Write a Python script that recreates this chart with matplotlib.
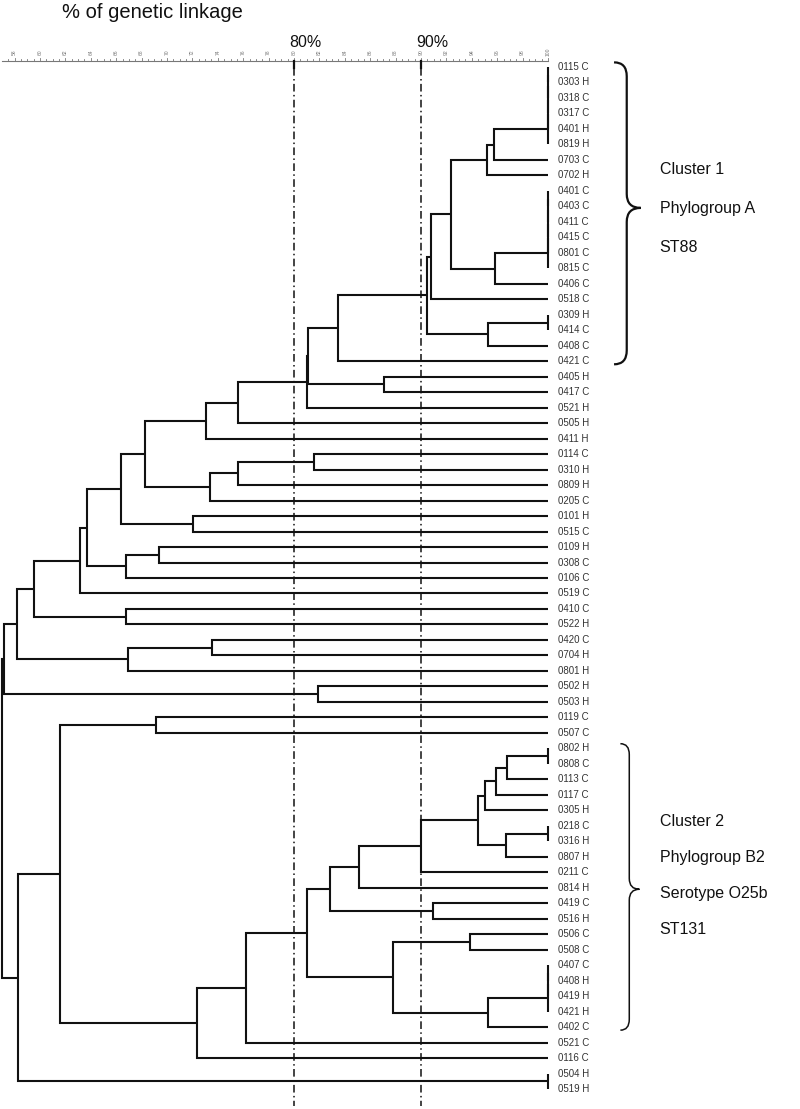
import matplotlib
matplotlib.use('Agg')
import matplotlib.pyplot as plt
from matplotlib.path import Path
from matplotlib.patches import PathPatch

plt.rcParams['font.family'] = ['Liberation Sans', 'DejaVu Sans']

# isolates, top to bottom
leaf_labels = [
    '0115 C', '0303 H', '0318 C', '0317 C', '0401 H', '0819 H', '0703 C', '0702 H',
    '0401 C', '0403 C', '0411 C', '0415 C', '0801 C', '0815 C', '0406 C', '0518 C',
    '0309 H', '0414 C', '0408 C', '0421 C', '0405 H', '0417 C', '0521 H', '0505 H',
    '0411 H', '0114 C', '0310 H', '0809 H', '0205 C', '0101 H', '0515 C', '0109 H',
    '0308 C', '0106 C', '0519 C', '0410 C', '0522 H', '0420 C', '0704 H', '0801 H',
    '0502 H', '0503 H', '0119 C', '0507 C', '0802 H', '0808 C', '0113 C', '0117 C',
    '0305 H', '0218 C', '0316 H', '0807 H', '0211 C', '0814 H', '0419 C', '0516 H',
    '0506 C', '0508 C', '0407 C', '0408 H', '0419 H', '0421 H', '0402 C', '0521 C',
    '0116 C', '0504 H', '0519 H',
]

# merges: (node, left, right, % similarity); ints are leaves, strings are nodes
merges = [
    ('a1', 0, 1, 100), ('a2', 'a1', 2, 100), ('a3', 'a2', 3, 100),
    ('a4', 'a3', 4, 100), ('a5', 'a4', 5, 100),
    ('b', 'a5', 6, 95.75),
    ('c', 'b', 7, 95.17),
    ('d1', 8, 9, 100), ('d2', 'd1', 10, 100), ('d3', 'd2', 11, 100),
    ('d4', 'd3', 12, 100), ('d5', 'd4', 13, 100),
    ('e', 'd5', 14, 95.8),
    ('f', 'c', 'e', 92.4),
    ('g', 'f', 15, 90.76),
    ('h', 16, 17, 100),
    ('i', 'h', 18, 95.25),
    ('j', 'g', 'i', 90.45),
    ('k', 'j', 19, 83.44),
    ('l', 20, 21, 87.09),
    ('m', 'k', 'l', 81.08),
    ('n', 'm', 22, 81.0),
    ('o', 'n', 23, 75.56),
    ('p', 'o', 24, 73.1),
    ('q', 25, 26, 81.6),
    ('r', 'q', 27, 75.56),
    ('s', 'r', 28, 73.4),
    ('t', 'p', 's', 68.3),
    ('u', 29, 30, 72.07),
    ('v', 't', 'u', 66.38),
    ('w', 31, 32, 69.37),
    ('x', 'w', 33, 66.77),
    ('y', 'v', 'x', 63.67),
    ('z', 'y', 34, 63.15),
    ('aa', 35, 36, 66.77),
    ('ab', 'z', 'aa', 59.53),
    ('ac', 37, 38, 73.52),
    ('ad', 'ac', 39, 66.9),
    ('ae', 'ab', 'ad', 58.21),
    ('af', 40, 41, 81.9),
    ('ag', 'ae', 'af', 57.17),
    ('ah', 42, 43, 69.1),
    ('ai', 44, 45, 100),
    ('aj', 'ai', 46, 96.8),
    ('ak', 'aj', 47, 95.9),
    ('al', 'ak', 48, 95.04),
    ('am', 49, 50, 100),
    ('an', 'am', 51, 96.7),
    ('ao', 'al', 'an', 94.46),
    ('ap', 'ao', 52, 89.98),
    ('aq', 'ap', 53, 85.12),
    ('ar', 54, 55, 90.97),
    ('as', 'aq', 'ar', 82.83),
    ('at', 56, 57, 93.86),
    ('au1', 58, 59, 100), ('au2', 'au1', 60, 100), ('au3', 'au2', 61, 100),
    ('av', 'au3', 62, 95.25),
    ('aw', 'at', 'av', 87.8),
    ('ax', 'as', 'aw', 81.05),
    ('ay', 'ax', 63, 76.2),
    ('az', 'ay', 64, 72.34),
    ('ba', 'ah', 'az', 61.57),
    ('bb', 65, 66, 100),
    ('bc', 'ba', 'bb', 58.27),
    ('root', 'ag', 'bc', 57.0),
]

cut_levels = [80, 90]
scale_ticks = list(range(58, 101, 2))

clusters = [
    # first leaf, last leaf, brace tip, text centre, line gap, text lines
    (0, 19, 9.1, 9.15, 2.5, ['Cluster 1', 'Phylogroup A', 'ST88']),
    (44, 62, 53.1, 52.2, 2.32, ['Cluster 2', 'Phylogroup B2', 'Serotype O25b', 'ST131']),
]

# pixel geometry of the reference
W, H = 800, 1109
PX_PCT = 12.7      # px per 1 %
X100 = 548         # px of 100 %
ROW0, ROW = 67, 15.485

fig = plt.figure(figsize=(W / 100, H / 100), dpi=100)
ax = fig.add_axes([0, 0, 1, 1])
ax.set_xlim(100 - X100 / PX_PCT, 100 + (W - X100) / PX_PCT)
ax.set_ylim((H - ROW0) / ROW, -ROW0 / ROW)
ax.axis('off')

# dendrogram
pos = {i: (100.0, float(i)) for i in range(len(leaf_labels))}
for name, a, b, sim in merges:
    xa, ya = pos[a]
    xb, yb = pos[b]
    ax.plot([xa, sim, sim, xb], [ya, ya, yb, yb], color='#111111', lw=1.5,
            solid_joinstyle='miter', solid_capstyle='butt')
    pos[name] = (sim, (ya + yb) / 2)

for i, lab in enumerate(leaf_labels):
    ax.text(100.8, i, lab, fontsize=7.0, color='#333333', va='center', ha='left')

# scale ruler
ruler_y = -0.41
ax.plot([57.0, 100], [ruler_y, ruler_y], color='#777777', lw=0.8)
v = 57.5
while v <= 100.001:
    major = abs(v - round(v)) < 1e-6 and int(round(v)) % 2 == 0
    ax.plot([v, v], [ruler_y, ruler_y - (0.2 if major else 0.1)], color='#777777', lw=0.6)
    v += 0.5
for t in scale_ticks:
    ax.text(t, ruler_y - 0.55, str(t), fontsize=3.6, color='#777777', rotation=90,
            ha='center', va='center')

# cut-off lines
for c in cut_levels:
    ax.plot([c, c], [ruler_y, ruler_y + 0.45], color='#111111', lw=1.6)
    ax.plot([c, c], [ruler_y + 0.5, 67.1], color='#111111', lw=1.1,
            linestyle=(0, (5, 2.2, 1, 2.2)))
    ax.text(c - 0.35, -1.55, f'{c}%', fontsize=11.5, color='#111111', ha='left', va='center')

fig.text(62 / W, 1 - 18 / H, '% of genetic linkage', fontsize=14.5, color='#111111',
         ha='left', va='baseline')


def brace(first, last, tip, x_end, x_body, x_tip, r, lw):
    y0 = first - 0.3
    y1 = last + 0.2
    verts = [(x_end, y0), (x_body, y0), (x_body, y0 + r),
             (x_body, tip - r), (x_body, tip), (x_tip, tip),
             (x_body, tip), (x_body, tip + r),
             (x_body, y1 - r), (x_body, y1), (x_end, y1)]
    codes = [Path.MOVETO, Path.CURVE3, Path.CURVE3,
             Path.LINETO, Path.CURVE3, Path.CURVE3,
             Path.CURVE3, Path.CURVE3,
             Path.LINETO, Path.CURVE3, Path.CURVE3]
    ax.add_patch(PathPatch(Path(verts, codes), fill=False, edgecolor='#111111', lw=lw))


brace(clusters[0][0], clusters[0][1], clusters[0][2], 105.2, 106.2, 107.3, 0.9, 1.6)
brace(clusters[1][0], clusters[1][1], clusters[1][2], 105.7, 106.4, 107.2, 0.7, 1.1)

for first, last, tip, centre, gap, lines in clusters:
    n = len(lines)
    start = centre - gap * (n - 1) / 2
    for k, txt in enumerate(lines):
        ax.text(108.8, start + k * gap, txt, fontsize=11.5, color='#111111',
                ha='left', va='center')

fig.savefig('out.png', dpi=100)
